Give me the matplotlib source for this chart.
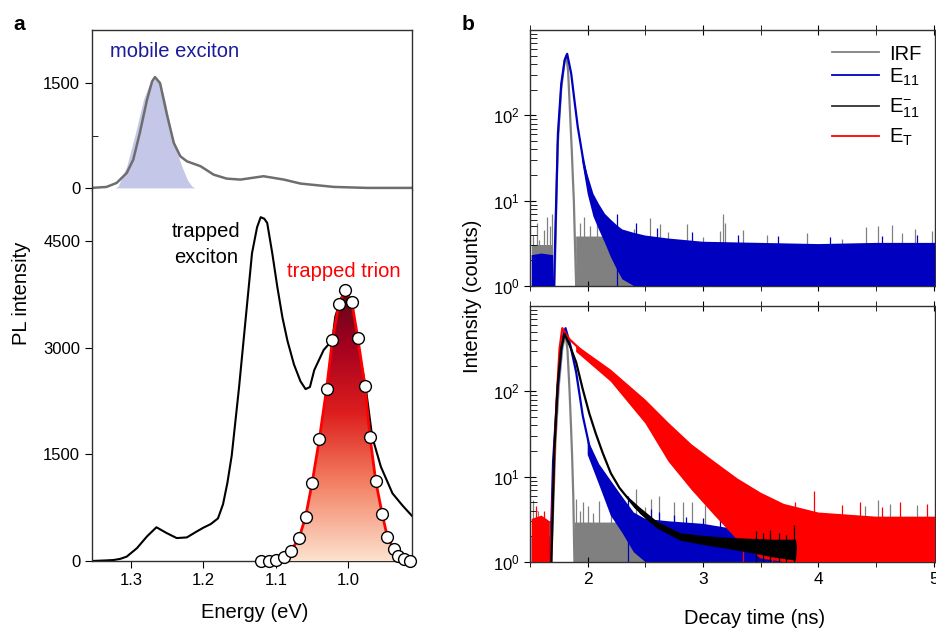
import numpy as np
import matplotlib
matplotlib.use('Agg')
import matplotlib.pyplot as plt
from matplotlib.colors import LinearSegmentedColormap
from matplotlib.ticker import LogLocator, NullFormatter

plt.rcParams['font.family'] = ['Liberation Sans', 'DejaVu Sans']
plt.rcParams['mathtext.fontset'] = 'custom'
plt.rcParams['mathtext.rm'] = 'Liberation Sans'
plt.rcParams['mathtext.it'] = 'Liberation Sans:italic'
plt.rcParams['mathtext.bf'] = 'Liberation Sans:bold'

nan = np.nan

# ---- panel a, top: mobile exciton spectrum ----
mob_e = [1.354, 1.334, 1.320, 1.306, 1.297, 1.288, 1.278, 1.271, 1.267, 1.260, 1.251,
         1.241, 1.232, 1.223, 1.204, 1.186, 1.168, 1.149, 1.117, 1.089, 1.066, 1.020,
         0.974, 0.911]
mob_pl = [0, 14, 71, 214, 405, 786, 1262, 1524, 1586, 1500, 1071,
          643, 452, 381, 310, 190, 133, 119, 167, 119, 62, 14,
          0, 0]
mob_fit_e = [1.322, 1.318, 1.306, 1.294, 1.283, 1.275, 1.267, 1.259, 1.252, 1.244,
             1.237, 1.230, 1.222, 1.216, 1.212]
mob_fit_pl = [0, 24, 310, 786, 1262, 1480, 1560, 1480, 1200, 786,
              520, 310, 110, 24, 0]

# ---- panel a, bottom: trapped exciton / trion ----
pl_e = [1.354, 1.335, 1.324, 1.315, 1.306, 1.292, 1.278, 1.265, 1.251, 1.237, 1.223,
        1.209, 1.200, 1.190, 1.180, 1.173, 1.167, 1.161, 1.151, 1.142, 1.133, 1.126,
        1.121, 1.116, 1.112, 1.105, 1.098, 1.091, 1.084, 1.075, 1.066, 1.059, 1.053,
        1.047, 1.034, 1.022, 1.018, 1.010, 1.006, 1.000, 0.990, 0.983, 0.976, 0.967,
        0.955, 0.939, 0.925, 0.911]
pl = [0, 8, 14, 30, 62, 180, 347, 475, 394, 323, 332,
      418, 470, 520, 600, 800, 1100, 1486, 2435, 3385, 4334, 4700,
      4842, 4820, 4761, 4334, 3859, 3432, 3100, 2767, 2530, 2421, 2450,
      2689, 2972, 3112, 3440, 3700, 3775, 3700, 3295, 2831, 2450, 1750,
      1328, 953, 780, 624]

tri_e = [1.121, 1.110, 1.100, 1.089, 1.079, 1.068, 1.059, 1.050, 1.040, 1.030, 1.022,
         1.013, 1.004, 0.995, 0.987, 0.977, 0.970, 0.962, 0.953, 0.946, 0.937, 0.931,
         0.923, 0.915]
tri_pl = [0, 0, 14, 62, 147, 323, 622, 1097, 1714, 2426, 3109,
          3622, 3812, 3641, 3147, 2468, 1747, 1120, 655, 337, 166, 71,
          24, 0]

# ---- panel b, top: IRF and E11 decays ----
irf1_t = [1.712, 1.74, 1.77, 1.80, 1.815, 1.83, 1.842, 1.852, 1.862, 1.872, 1.88, 1.89, 1.90]
irf1_y = [1, 45, 200, 440, 505, 330, 150, 75, 39, 18, 10, 3, 1]
irf1_bt = [1.515, 1.70, nan, 1.90, 2.35, 2.45, 5.01]
irf1_lo = [1, 1, nan, 1, 1, 1, 1]
irf1_hi = [3.0, 3.0, nan, 3.8, 3.8, 2.4, 2.4]
irf1_st = [1.53, 1.56, 1.58, 1.62, 1.65, 1.67, 1.69, 1.93, 1.97, 2.02, 2.08, 2.15, 2.22,
           2.40, 2.54, 2.63, 2.70, 2.86, 3.00, 3.15, 3.17, 3.19, 3.35, 3.55, 3.90, 4.20,
           4.41, 4.52, 4.64, 4.72, 4.84, 4.98]
irf1_sh = [4.0, 5.5, 3.5, 4.5, 6.5, 5.0, 7.0, 5.5, 6.4, 5.0, 5.8, 5.0, 4.5,
           4.6, 6.2, 5.4, 4.3, 5.4, 3.8, 4.4, 7.0, 5.5, 4.5, 4.0, 4.2, 3.6,
           4.9, 5.0, 5.2, 4.2, 4.6, 4.4]

e11a_t = [1.708, 1.742, 1.771, 1.80, 1.822, 1.857, 1.885, 1.914, 1.957, 2.0, 2.057,
          2.115, 2.2, 2.344]
e11a_y = [1, 61, 235, 440, 526, 309, 150, 73, 32.5, 16, 9,
          6.2, 4.2, 3.2]
e11a_bt = [1.515, 1.60, 1.70, nan, 1.95, 2.00, 2.05, 2.10, 2.15, 2.20, 2.25, 2.30,
           2.40, 2.50, 2.70, 3.0, 3.5, 4.0, 4.5, 5.01]
e11a_lo = [1, 1, 1, nan, 30, 12, 6.5, 4.5, 3.2, 2.2, 1.6, 1.2,
           1, 1, 1, 1, 1, 1, 1, 1]
e11a_hi = [2.3, 2.4, 2.3, nan, 36, 20, 12, 9, 7, 6, 5.2, 4.6,
           4.2, 3.9, 3.6, 3.3, 3.2, 3.1, 3.2, 3.2]
e11a_st = [2.25, 2.42, 2.60, 2.90, 3.30, 3.65, 4.10, 4.55, 4.85]
e11a_sh = [7.0, 5.5, 4.8, 4.3, 4.0, 3.9, 3.8, 3.9, 4.0]

# ---- panel b, bottom: IRF, E11, E11-, ET decays ----
irf2_t = [1.685, 1.72, 1.75, 1.78, 1.808, 1.825, 1.842, 1.855, 1.865, 1.875, 1.885]
irf2_y = [1, 25, 120, 320, 470, 300, 106, 40, 17.5, 6, 1]
irf2_bt = [1.515, 1.68, nan, 1.89, 2.5, 2.6, 5.01]
irf2_lo = [1, 1, nan, 1, 1, 1, 1]
irf2_hi = [3.0, 3.0, nan, 2.9, 2.9, 2.0, 2.0]
irf2_st = [1.53, 1.57, 1.90, 1.93, 1.96, 2.00, 2.05, 2.10, 2.20, 2.30, 2.42, 2.50,
           2.55, 2.62, 2.75, 2.83, 2.90, 3.02, 3.20, 3.28, 4.40, 4.52, 4.62, 4.85]
irf2_sh = [5.4, 4.0, 5.5, 4.0, 5.0, 4.5, 3.8, 5.2, 5.8, 4.5, 7.1, 4.4,
           5.5, 6.0, 5.0, 5.0, 5.0, 4.6, 5.5, 3.3, 4.5, 5.4, 4.8, 4.6]

e11b_t = [1.676, 1.70, 1.74, 1.77, 1.79, 1.808, 1.85, 1.90, 1.957, 2.014, 2.07,
          2.13, 2.20, 2.275, 2.41]
e11b_y = [1, 15, 110, 300, 470, 550, 345, 167, 52, 23, 14.6,
          9, 5.5, 3.7, 2.3]
e11b_bt = [1.515, 1.60, 1.67, nan, 2.0, 2.1, 2.2, 2.3, 2.4, 2.5, 2.7, 3.0,
           3.3, 3.6, 3.85, 3.86]
e11b_lo = [1, 1, 1, nan, 18, 8, 3.5, 2.2, 1.3, 1, 1, 1,
           1, 1, 1, 1]
e11b_hi = [2.0, 2.2, 2.0, nan, 27, 14, 9, 5.8, 3.8, 3.2, 3.0, 2.8,
           2.4, 2.1, 2.0, 1]
e11b_st = [2.35, 2.55, 2.62, 2.75, 2.85, 3.00, 3.15, 4.02]
e11b_sh = [6.0, 4.2, 3.9, 3.6, 3.4, 3.3, 3.1, 2.5]

trion_t = [1.676, 1.70, 1.728, 1.756, 1.78, 1.84, 1.93, 2.07, 2.215, 2.36, 2.50,
           2.645, 2.79, 2.93, 3.07, 3.22, 3.36]
trion_y = [1, 7, 68, 315, 550, 410, 315, 209, 152, 97, 62,
           36, 21, 13.3, 9.3, 6.5, 4.9]
trion_bt = [1.515, 1.60, 1.67, nan, 1.90, 2.2, 2.5, 2.7, 2.9, 3.1, 3.3, 3.5,
            3.7, 4.0, 4.5, 5.01]
trion_lo = [1, 1, 1, nan, 290, 130, 42, 15, 7, 3.5, 1.8, 1.1,
            1, 1, 1, 1]
trion_hi = [3.2, 3.5, 3.0, nan, 350, 180, 80, 43, 24, 15, 9.5, 6.5,
            4.8, 3.8, 3.4, 3.4]
trion_st = [1.55, 1.62, 3.35, 3.60, 3.80, 3.96, 4.20, 4.36, 4.55, 4.71, 4.94]
trion_sh = [4.5, 4.0, 7.5, 5.5, 5.0, 6.8, 4.6, 5.0, 4.4, 5.0, 4.8]

e11m_t = [1.685, 1.71, 1.74, 1.77, 1.80, 1.85, 1.90, 1.957, 2.014, 2.07, 2.13,
          2.20, 2.275, 2.41, 2.56, 2.70, 2.84, 2.99, 3.27, 3.50, 3.80]
e11m_y = [1, 20, 120, 320, 470, 330, 219, 106, 55, 32, 19,
          11, 7.4, 4.4, 2.9, 2.25, 1.95, 1.8, 1.67, 1.55, 1.5]
e11m_bt = [2.3, 2.45, 2.6, 2.8, 3.0, 3.2, 3.4, 3.6, 3.8, 3.81]
e11m_lo = [6.7, 3.7, 2.5, 1.8, 1.6, 1.45, 1.3, 1.15, 1.05, 1.5]
e11m_hi = [6.7, 4.4, 3.0, 2.2, 2.05, 1.95, 1.9, 1.85, 1.85, 1.5]
e11m_st = [3.46, 3.52, 3.58, 3.66, 3.72, 3.79]
e11m_sh = [2.3, 2.2, 2.4, 2.2, 2.1, 2.7]

GRAY = '#808080'
BLUE = '#0000c0'
RED = '#ff0000'

W, H = 936, 628


def fx(px):
    return px / W


def fy(py):
    return 1 - py / H


def draw_decay(ax, t, y, bt, lo, hi, st, sh, color, z):
    ax.fill_between(bt, lo, hi, color=color, lw=0, zorder=z)
    ax.vlines(st, 1, sh, color=color, lw=0.9, zorder=z)
    ax.plot(t, y, color=color, lw=1.6, zorder=z + 0.5)


fig = plt.figure(figsize=(9.36, 6.28), dpi=100)

ax_a1 = fig.add_axes([fx(92), fy(190), fx(412) - fx(92), fy(30) - fy(190)])
ax_a2 = fig.add_axes([fx(92), fy(561), fx(412) - fx(92), fy(190) - fy(561)])
ax_b1 = fig.add_axes([fx(530), fy(286), fx(935) - fx(530), fy(30) - fy(286)])
ax_b2 = fig.add_axes([fx(530), fy(562), fx(935) - fx(530), fy(306) - fy(562)])

# panel a top
ax_a1.fill_between(mob_fit_e, 0, mob_fit_pl, color='#c5c7e8', lw=0)
ax_a1.plot(mob_e, mob_pl, color='#6e6e6e', lw=1.8)
ax_a1.set_xlim(1.354, 0.912)
ax_a1.set_ylim(-30, 2260)
ax_a1.set_yticks([0, 1500])
ax_a1.set_yticks([750], minor=True)
ax_a1.set_xticks([])
ax_a1.spines['bottom'].set_visible(False)
ax_a1.tick_params(axis='y', which='major', direction='out', length=5, labelsize=12)
ax_a1.tick_params(axis='y', which='minor', direction='in', length=4)

# panel a bottom
ax_a2.plot(pl_e, pl, color='black', lw=1.5, zorder=2)
poly = ax_a2.fill_between(tri_e, 0, tri_pl, facecolor='none', edgecolor='none', zorder=3)
trion_cmap = LinearSegmentedColormap.from_list(
    'trion', [(0, '#fde2cf'), (0.3, '#f27c5e'), (0.55, '#dd1d1d'), (0.8, '#a3001f'), (1, '#5a0818')])
grad = np.linspace(0, 1, 256).reshape(-1, 1)
im = ax_a2.imshow(grad, cmap=trion_cmap, origin='lower', aspect='auto',
                  extent=[min(tri_e), max(tri_e), 0, max(tri_pl)], zorder=3)
im.set_clip_path(poly.get_paths()[0], transform=ax_a2.transData)
ax_a2.plot(tri_e, tri_pl, color=RED, lw=2, zorder=4)
ax_a2.plot(tri_e, tri_pl, 'o', mfc='white', mec='black', mew=1, ms=8.5, zorder=5, clip_on=False)
ax_a2.set_xlim(1.354, 0.912)
ax_a2.set_ylim(0, 5225)
ax_a2.set_yticks([0, 1500, 3000, 4500])
ax_a2.set_xticks([1.3, 1.2, 1.1, 1.0])
ax_a2.set_xticklabels(['1.3', '1.2', '1.1', '1.0'])
ax_a2.spines['top'].set_visible(False)
ax_a2.tick_params(direction='out', length=5, labelsize=12)

# panel b top
draw_decay(ax_b1, irf1_t, irf1_y, irf1_bt, irf1_lo, irf1_hi, irf1_st, irf1_sh, GRAY, 1)
draw_decay(ax_b1, e11a_t, e11a_y, e11a_bt, e11a_lo, e11a_hi, e11a_st, e11a_sh, BLUE, 3)

# panel b bottom
draw_decay(ax_b2, irf2_t, irf2_y, irf2_bt, irf2_lo, irf2_hi, irf2_st, irf2_sh, GRAY, 1)
draw_decay(ax_b2, e11b_t, e11b_y, e11b_bt, e11b_lo, e11b_hi, e11b_st, e11b_sh, BLUE, 2)
draw_decay(ax_b2, trion_t, trion_y, trion_bt, trion_lo, trion_hi, trion_st, trion_sh, RED, 3)
draw_decay(ax_b2, e11m_t, e11m_y, e11m_bt, e11m_lo, e11m_hi, e11m_st, e11m_sh, 'black', 4)

for ax in (ax_b1, ax_b2):
    ax.set_yscale('log')
    ax.set_ylim(1, 1000)
    ax.set_xlim(1.515, 5.01)
    ax.set_yticks([1, 10, 100])
    ax.yaxis.set_minor_locator(LogLocator(base=10, subs=np.arange(2, 10)))
    ax.yaxis.set_minor_formatter(NullFormatter())
    ax.set_xticks([2, 3, 4, 5])
    ax.set_xticks([1.5, 2.5, 3.5, 4.5], minor=True)
    ax.tick_params(axis='x', which='both', top=True, direction='inout', length=7, labelsize=12.5)
    ax.tick_params(axis='y', which='major', direction='inout', length=8, labelsize=12)
    ax.tick_params(axis='y', which='minor', direction='in', length=5)
ax_b1.set_xticklabels([])

for ax in (ax_a1, ax_a2, ax_b1, ax_b2):
    for s in ax.spines.values():
        s.set_linewidth(1.0)
        s.set_color('#303030')

# legend drawn by hand
leg_rows = [(GRAY, 'IRF', 52, 60), (BLUE, r'E$\mathregular{_{11}}$', 75, 83),
            ('#303030', r'E$\mathregular{_{11}^{-}}$', 106, 113), (RED, r'E$\mathregular{_{T}}$', 136, 143)]
for col, lab, ly, lb in leg_rows:
    fig.add_artist(plt.Line2D([fx(832), fx(879)], [fy(ly), fy(ly)], color=col, lw=1.3))
    fig.text(fx(889), fy(lb), lab, fontsize=14.5, va='baseline')

# labels and annotations
fig.text(fx(13), fy(30), 'a', fontsize=15, fontweight='bold', va='baseline')
fig.text(fx(462), fy(30), 'b', fontsize=15, fontweight='bold', va='baseline')
fig.text(fx(110), fy(57), 'mobile exciton', fontsize=14.5, color='#1a1a9a', va='baseline')
fig.text(fx(206), fy(237), 'trapped', fontsize=14.5, ha='center', va='baseline')
fig.text(fx(206), fy(263), 'exciton', fontsize=14.5, ha='center', va='baseline')
fig.text(fx(287), fy(277), 'trapped trion', fontsize=14.5, color=RED, va='baseline')
fig.text(fx(22), fy(293), 'PL intensity', fontsize=14.5, rotation=90, ha='center', va='center')
fig.text(fx(255), fy(613), 'Energy (eV)', fontsize=14.5, ha='center', va='center')
fig.text(fx(472), fy(296), 'Intensity (counts)', fontsize=14.5, rotation=90, ha='center', va='center')
fig.text(fx(755), fy(618), 'Decay time (ns)', fontsize=14.5, ha='center', va='center')

fig.savefig('out.png', dpi=100)
